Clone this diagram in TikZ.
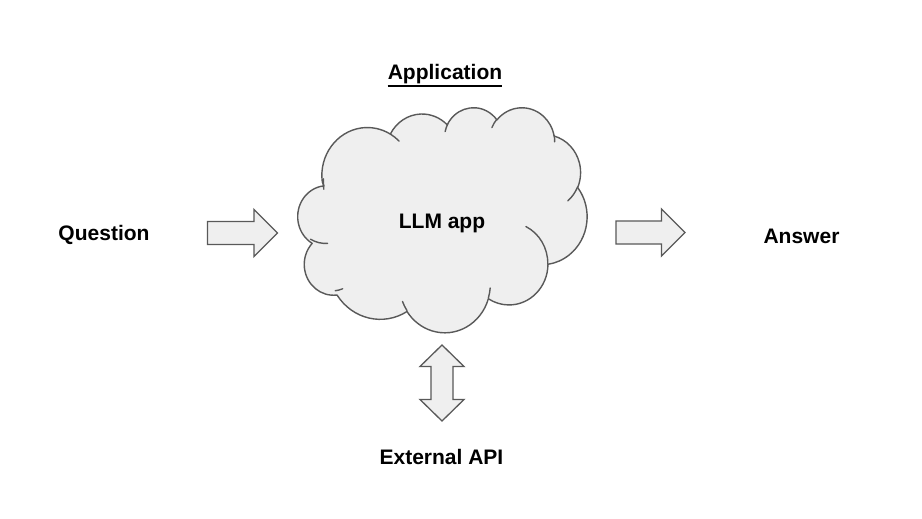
\documentclass[tikz,border=0pt]{standalone}
\usepackage{fontspec}
\setmainfont{Liberation Sans}
\definecolor{shapefill}{HTML}{EFEFEF}
\definecolor{shapeline}{HTML}{595959}
\newcommand\prepArc[5]{%
  \pgfmathsetmacro\tmpA{atan2((#2)*sin(#4),(#3)*cos(#4))}%
  \pgfmathsetmacro\tmpB{atan2((#2)*sin(#4+#5),(#3)*cos(#4+#5))}%
  \pgfmathsetmacro\tmpD{Mod(\tmpB-\tmpA,360)}%
  \edef\tmpS{\noexpand\tikzset{CA#1/.style={start angle=\tmpA, delta angle=\tmpD, x radius=#2, y radius=#3}}}%
  \tmpS}
\tikzset{
  lbl/.style={font=\fontsize{21}{25}\selectfont\bfseries, inner sep=0pt, anchor=base, text=black},
  blockarrow/.style={draw=shapeline, fill=shapefill, line width=1.3pt, line join=miter},
  cloudline/.style={draw=shapeline, line width=1.4pt, line join=round, line cap=round},
}
\begin{document}
\begin{tikzpicture}[x=1pt, y=-1pt]
\fill[white] (0,0) rectangle (922,519);
\useasboundingbox (0,0) rectangle (922,519);
% cloud arcs (main outline)
\prepArc{m1}{67.53}{91.90}{-190.4875}{123.7805}
\prepArc{m2}{53.33}{72.67}{-144.1024}{89.9452}
\prepArc{m3}{43.65}{59.45}{-145.8079}{99.7230}
\prepArc{m4}{48.57}{65.95}{-130.9861}{117.2417}
\prepArc{m5}{53.33}{72.73}{-78.7089}{109.0269}
\prepArc{m6}{67.75}{92.20}{-46.2673}{130.2690}
\prepArc{m7}{57.85}{78.67}{0.6250}{114.0333}
\prepArc{m8}{67.52}{92.15}{22.4516}{115.1726}
\prepArc{m9}{77.20}{105.43}{66.2426}{71.2664}
\prepArc{m10}{43.60}{59.18}{-274.9421}{146.7375}
\prepArc{m11}{43.45}{59.45}{-246.8285}{152.5169}
% inner arcs
\prepArc{ia}{43.45}{59.45}{86.7420}{26.4295}
\prepArc{ib}{43.60}{59.18}{73.6105}{11.4475}
\prepArc{ic}{67.52}{92.15}{137.6242}{14.0811}
\prepArc{id}{67.52}{92.15}{6.4533}{15.9984}
\prepArc{ie}{57.85}{78.67}{-70.2924}{70.9174}
\prepArc{if}{53.33}{72.73}{30.3180}{27.7515}
\prepArc{ig}{48.57}{65.95}{-13.7443}{14.8604}
\prepArc{ih}{48.57}{65.95}{-149.1815}{18.1839}
\prepArc{ii}{43.65}{59.45}{-163.4943}{17.6927}
\prepArc{ij}{67.53}{91.90}{-66.7070}{12.3194}
\prepArc{ik}{67.53}{91.90}{-190.4875}{16.9807}
\begin{scope}[shift={(296,107)}, x=0.67361pt, y=-0.52083pt]
  \path[cloudline, fill=shapefill] (39.00,143.70)
    arc[CAm1] arc[CAm2] arc[CAm3] arc[CAm4] arc[CAm5] arc[CAm6]
    arc[CAm7] arc[CAm8] arc[CAm9] arc[CAm10] arc[CAm11] -- cycle;
  \draw[cloudline] (46.93,261.77) arc[CAia];
  \draw[cloudline] (69.28,348.99) arc[CAib];
  \draw[cloudline] (164.78,390.90) arc[CAic];
  \draw[cloudline] (288.27,347.51) arc[CAid];
  \draw[cloudline] (341.29,229.54) arc[CAie];
  \draw[cloudline] (417.98,153.54) arc[CAif];
  \draw[cloudline] (383.24,54.26) arc[CAig];
  \draw[cloudline] (290.78,39.52) arc[CAih];
  \draw[cloudline] (221.41,47.20) arc[CAii];
  \draw[cloudline] (140.00,51.92) arc[CAij];
  \draw[cloudline] (41.27,157.89) arc[CAik];
\end{scope}
% block arrows
\draw[blockarrow] (207.5,221.5) -- (254,221.5) -- (254,209.5) -- (277.5,233)
  -- (254,256.5) -- (254,244.5) -- (207.5,244.5) -- cycle;
\draw[blockarrow] (616,221) -- (661.5,221) -- (661.5,209) -- (685,232.5)
  -- (661.5,256) -- (661.5,244) -- (616,244) -- cycle;
\draw[blockarrow] (442,345) -- (464,366.5) -- (453,366.5) -- (453,399.5)
  -- (464,399.5) -- (442,421) -- (420,399.5) -- (431,399.5) -- (431,366.5)
  -- (420,366.5) -- cycle;
% labels
\node[lbl] (question) at (104,240) {Question};
\node[lbl] (answer) at (801.5,243) {Answer};
\node[lbl] (app) at (445,80) {Application};
\draw[line width=1.6pt] ([yshift=-6pt]app.base west) -- ([yshift=-6pt]app.base east);
\node[lbl] (llm) at (442,228) {LLM app};
\node[lbl] (api) at (441.5,464) {External API};
\end{tikzpicture}
\end{document}
